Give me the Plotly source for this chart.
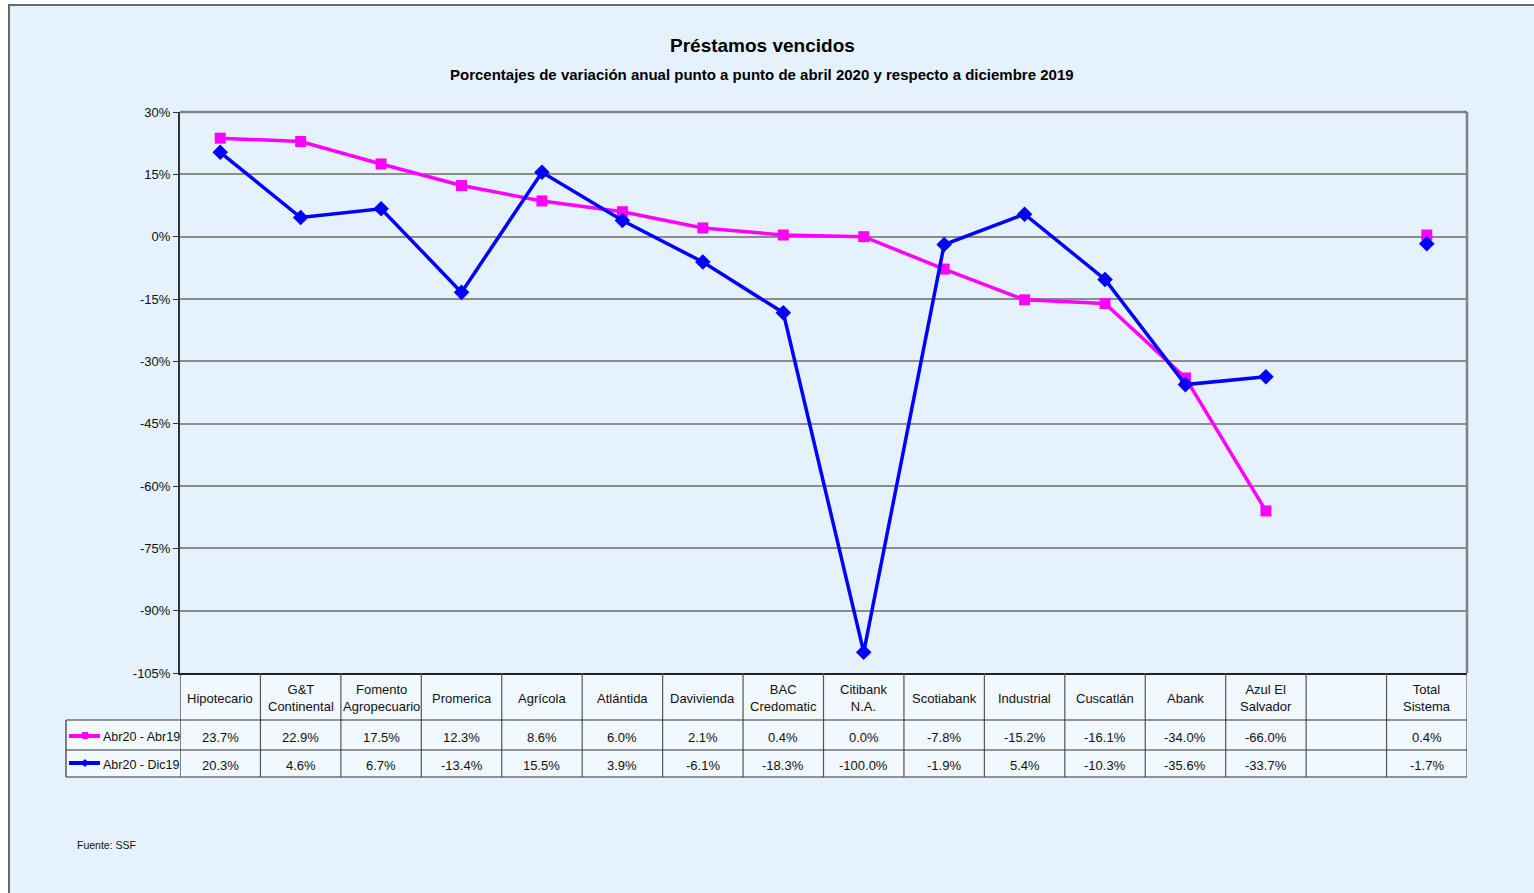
import plotly.graph_objects as go

categories = ["Hipotecario", "G&T<br>Continental", "Fomento<br>Agropecuario", "Promerica", "Agrícola",
              "Atlántida", "Davivienda", "BAC<br>Credomatic", "Citibank<br>N.A.", "Scotiabank",
              "Industrial", "Cuscatlán", "Abank", "Azul El<br>Salvador", "", "Total<br>Sistema"]
abr19 = [23.7, 22.9, 17.5, 12.3, 8.6, 6.0, 2.1, 0.4, 0.0, -7.8, -15.2, -16.1, -34.0, -66.0, None, 0.4]
dic19 = [20.3, 4.6, 6.7, -13.4, 15.5, 3.9, -6.1, -18.3, -100.0, -1.9, 5.4, -10.3, -35.6, -33.7, None, -1.7]
series_names = ["Abr20 - Abr19", "Abr20 - Dic19"]
y_ticks = [30, 15, 0, -15, -30, -45, -60, -75, -90, -105]

W, H = 1534, 893
L, R, T, B = 180, 1467, 112, 673
PW, PH = R - L, B - T

def px(x):
    return (x - L) / PW

def py(y):
    return (B - y) / PH

FONT = "Liberation Sans Narrow, Arial Narrow, Liberation Sans, Arial"
MAG = "#FF00FF"
BLU = "#0000FF"
BG = "#E5F2FD"
CELL = "#F1F8FE"
TXT = "#111111"

xs = list(range(len(categories)))
fig = go.Figure()
fig.add_trace(go.Scatter(x=xs, y=abr19, mode="lines+markers", name=series_names[0],
                         line=dict(color=MAG, width=3.5), marker=dict(symbol="square", size=11, color=MAG),
                         connectgaps=False, showlegend=False))
fig.add_trace(go.Scatter(x=xs, y=dic19, mode="lines+markers", name=series_names[1],
                         line=dict(color=BLU, width=3.5), marker=dict(symbol="diamond", size=12, color=BLU),
                         connectgaps=False, showlegend=False))

shapes = []
annotations = []
# outer panel
shapes.append(dict(type="rect", xref="paper", yref="paper", x0=px(9), x1=px(1545), y0=py(905), y1=py(5),
                   fillcolor=BG, line=dict(color="#666666", width=2), layer="below"))
# table cells fill
shapes.append(dict(type="rect", xref="x", yref="paper", x0=-0.5, x1=len(categories) - 0.5, y0=py(777), y1=py(673),
                   fillcolor=CELL, line=dict(width=0), layer="below"))
shapes.append(dict(type="rect", xref="paper", yref="paper", x0=px(66), x1=0, y0=py(777), y1=py(720),
                   fillcolor=CELL, line=dict(width=0), layer="below"))
# plot area top / right border (gray)
shapes.append(dict(type="line", xref="paper", yref="paper", x0=0, x1=1, y0=1, y1=1,
                   line=dict(color="#808080", width=2.5)))
shapes.append(dict(type="line", xref="paper", yref="paper", x0=1, x1=1, y0=0, y1=1,
                   line=dict(color="#808080", width=2.5)))
# table lines
for i in range(len(categories) + 1):
    shapes.append(dict(type="line", xref="x", yref="paper", x0=i - 0.5, x1=i - 0.5, y0=py(777), y1=py(673),
                       line=dict(color="#333333" if i == 0 else "#555555", width=1.2)))
shapes.append(dict(type="line", xref="paper", yref="paper", x0=px(66), x1=px(66), y0=py(777), y1=py(720),
                   line=dict(color="#333333", width=1.2)))
for yy in [720, 750, 777]:
    shapes.append(dict(type="line", xref="paper", yref="paper", x0=px(66), x1=1, y0=py(yy), y1=py(yy),
                       line=dict(color="#333333", width=1.2)))
# legend keys in table
for yy, col, sym in [(736, MAG, "square"), (763, BLU, "diamond")]:
    shapes.append(dict(type="line", xref="paper", yref="paper", x0=px(69), x1=px(100), y0=py(yy), y1=py(yy),
                       line=dict(color=col, width=4)))
    if sym == "square":
        shapes.append(dict(type="rect", xref="paper", yref="paper", x0=px(82), x1=px(88), y0=py(yy + 3), y1=py(yy - 4),
                           fillcolor=col, line=dict(width=0)))
    else:
        shapes.append(dict(type="path", xref="paper", yref="paper",
                           path=f"M {px(85)},{py(yy-4)} L {px(89)},{py(yy)} L {px(85)},{py(yy+4)} L {px(81)},{py(yy)} Z",
                           fillcolor=col, line=dict(width=0)))

for name, yy in zip(series_names, [737, 765]):
    annotations.append(dict(text=name, xref="paper", yref="paper", x=px(101), y=py(yy), xanchor="left",
                            yanchor="middle", showarrow=False, font=dict(family=FONT, size=12.5, color=TXT)))

def fmt(v):
    return "" if v is None else f"{v:.1f}%"

for i, c in enumerate(categories):
    annotations.append(dict(text=c, xref="x", yref="paper", x=i, y=py(698), xanchor="center", yanchor="middle",
                            showarrow=False, font=dict(family=FONT, size=13, color=TXT)))
    annotations.append(dict(text=fmt(abr19[i]), xref="x", yref="paper", x=i, y=py(737), xanchor="center",
                            yanchor="middle", showarrow=False, font=dict(family=FONT, size=13, color=TXT)))
    annotations.append(dict(text=fmt(dic19[i]), xref="x", yref="paper", x=i, y=py(765), xanchor="center",
                            yanchor="middle", showarrow=False, font=dict(family=FONT, size=13, color=TXT)))

annotations.append(dict(text="<b>Préstamos vencidos</b>", xref="paper", yref="paper", x=px(762), y=py(45),
                        xanchor="center", yanchor="middle", showarrow=False,
                        font=dict(family=FONT, size=19, color="#000000")))
annotations.append(dict(text="<b>Porcentajes de variación anual punto a punto de abril 2020 y respecto a diciembre 2019</b>",
                        xref="paper", yref="paper", x=px(762), y=py(74), xanchor="center", yanchor="middle",
                        showarrow=False, font=dict(family=FONT, size=15, color="#000000")))
annotations.append(dict(text="Fuente: SSF", xref="paper", yref="paper", x=px(75), y=py(845), xanchor="left",
                        yanchor="middle", showarrow=False, font=dict(family=FONT, size=10.5, color=TXT)))

fig.update_layout(
    width=W, height=H, margin=dict(l=L, r=W - R, t=T, b=H - B, pad=0),
    paper_bgcolor="white", plot_bgcolor="white",
    shapes=shapes, annotations=annotations,
    xaxis=dict(range=[-0.5, len(categories) - 0.5], showticklabels=False, showgrid=False, zeroline=False,
               showline=True, linecolor="#222222", linewidth=2, mirror=False, ticks=""),
    yaxis=dict(range=[-105, 30], tickvals=y_ticks, ticktext=[f"{v}%" for v in y_ticks], showgrid=True,
               gridcolor="#8C8C8C", gridwidth=2, zeroline=False, showline=True, linecolor="#333333", linewidth=2,
               mirror=False, ticks="outside", ticklen=5, tickcolor="#333333",
               tickfont=dict(family=FONT, size=13, color=TXT)),
)

fig.write_html("out.html", config={"displayModeBar": False},
               post_script="document.body.style.margin='0';document.body.style.overflow='hidden';")
